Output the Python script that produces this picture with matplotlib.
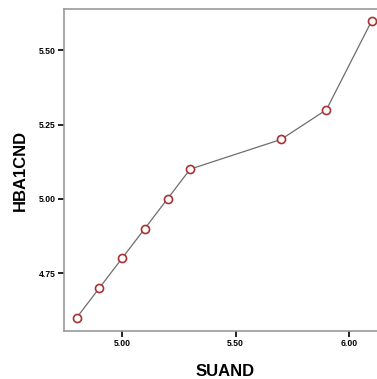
import matplotlib
matplotlib.use("Agg")
import matplotlib.pyplot as plt

suand = [4.8, 4.9, 5.0, 5.1, 5.2, 5.3, 5.7, 5.9, 6.1]
hba1cnd = [4.6, 4.7, 4.8, 4.9, 5.0, 5.1, 5.2, 5.3, 5.6]
xticks = [5.00, 5.50, 6.00]
yticks = [4.75, 5.00, 5.25, 5.50]

plt.rcParams['font.family'] = ['Liberation Sans', 'DejaVu Sans']

W, H = 377, 379
fig = plt.figure(figsize=(W / 100, H / 100), dpi=100)
left, right, top, bottom = 64, 384, 9, 331
ax = fig.add_axes([left / W, 1 - bottom / H, (right - left) / W, (bottom - top) / H])

ax.plot(suand, hba1cnd, color='#6e6e6e', lw=0.9, zorder=2)
ax.plot(suand, hba1cnd, ls='none', marker='o', ms=5.8, mfc='white',
        mec='#a83232', mew=1.2, zorder=3)

ax.set_xlim(4.744, 4.744 + (right - left) / 227.0 * 1.0)
ax.set_ylim(4.555, 4.555 + (bottom - top) / 297.0)
ax.set_xticks(xticks)
ax.set_xticklabels([f"{v:.2f}" for v in xticks])
ax.set_yticks(yticks)
ax.set_yticklabels([f"{v:.2f}" for v in yticks])
ax.tick_params(length=4, width=1.4, color='#222222', labelsize=6.2, pad=2)
for lab in ax.get_xticklabels() + ax.get_yticklabels():
    lab.set_fontweight('bold')
for s in ax.spines.values():
    s.set_color('#999999')
    s.set_linewidth(1.2)

fig.text(225 / W, 1 - 372 / H, 'SUAND', ha='center', va='center',
         fontsize=12, fontweight='bold')
fig.text(20 / W, 1 - 170 / H, 'HBA1CND', ha='center', va='center',
         rotation=90, fontsize=12, fontweight='bold')

fig.savefig('out.png', dpi=100)
